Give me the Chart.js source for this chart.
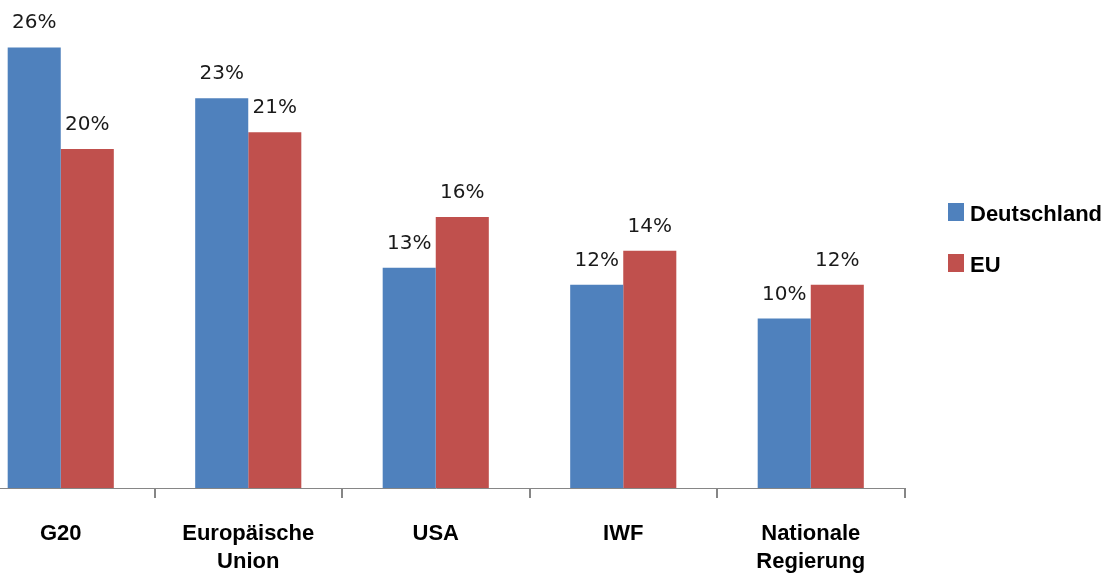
<!DOCTYPE html>
<html>
<head>
<meta charset="utf-8">
<script src="https://cdn.jsdelivr.net/npm/chart.js@4/dist/chart.umd.min.js"></script>
<style>
  html, body { margin: 0; padding: 0; background: #fff; overflow: hidden; }
  #wrap { position: absolute; left: -33px; top: 0; width: 1145px; height: 579px; }
</style>
</head>
<body>
<div id="wrap"><canvas id="chart" width="1145" height="579"></canvas></div>
<script>
// --- data ---
const categories = ['G20', ['Europäische', 'Union'], 'USA', 'IWF', ['Nationale', 'Regierung']];
const seriesNames = ['Deutschland', 'EU'];
const deutschland = [26, 23, 13, 12, 10];
const eu = [20, 21, 16, 14, 12];
const seriesColors = ['#4F81BD', '#C0504D'];

const labelFont = 'bold 22px "Liberation Sans", Arial, sans-serif';
const valueFont = '20px "DejaVu Sans", sans-serif';

// --- value labels above each bar ---
const valueLabels = {
  id: 'valueLabels',
  afterDatasetsDraw(chart) {
    const ctx = chart.ctx;
    ctx.save();
    ctx.font = valueFont;
    ctx.fillStyle = '#1a1a1a';
    ctx.textAlign = 'center';
    ctx.textBaseline = 'alphabetic';
    chart.data.datasets.forEach((ds, i) => {
      chart.getDatasetMeta(i).data.forEach((bar, j) => {
        ctx.fillText(ds.data[j] + '%', bar.x, bar.y - 19);
      });
    });
    ctx.restore();
  }
};

// --- legend on the right ---
const sideLegend = {
  id: 'sideLegend',
  afterDraw(chart) {
    const ctx = chart.ctx;
    const rows = [221, 272];
    ctx.save();
    ctx.font = labelFont;
    ctx.textBaseline = 'alphabetic';
    ctx.textAlign = 'left';
    chart.data.datasets.forEach((ds, i) => {
      const y = rows[i];
      ctx.fillStyle = ds.backgroundColor;
      ctx.fillRect(981, y - 18, 16, 18);
      ctx.fillStyle = '#000';
      ctx.fillText(ds.label, 1003, y);
    });
    ctx.restore();
  }
};

new Chart(document.getElementById('chart'), {
  type: 'bar',
  data: {
    labels: categories,
    datasets: [
      { label: seriesNames[0], data: deutschland, backgroundColor: seriesColors[0] },
      { label: seriesNames[1], data: eu, backgroundColor: seriesColors[1] }
    ]
  },
  options: {
    responsive: false,
    animation: false,
    devicePixelRatio: 1,
    layout: { padding: { left: 0, right: 207.5, top: 0, bottom: 0 } },
    datasets: { bar: { categoryPercentage: 0.566, barPercentage: 1 } },
    plugins: {
      legend: { display: false },
      tooltip: { enabled: false }
    },
    scales: {
      y: { display: false, min: 0, max: 28.8 },
      x: {
        afterFit(scale) { scale.height = 91; },
        border: { display: true, color: '#868686', width: 1 },
        grid: {
          offset: true,
          drawOnChartArea: false,
          drawTicks: true,
          tickLength: 10,
          color: '#868686',
          lineWidth: 2
        },
        ticks: {
          color: '#000',
          padding: 22,
          maxRotation: 0,
          autoSkip: false,
          font: { family: '"Liberation Sans", Arial, sans-serif', size: 22, weight: 'bold', lineHeight: 1.27 }
        }
      }
    }
  },
  plugins: [valueLabels, sideLegend]
});
</script>
</body>
</html>
